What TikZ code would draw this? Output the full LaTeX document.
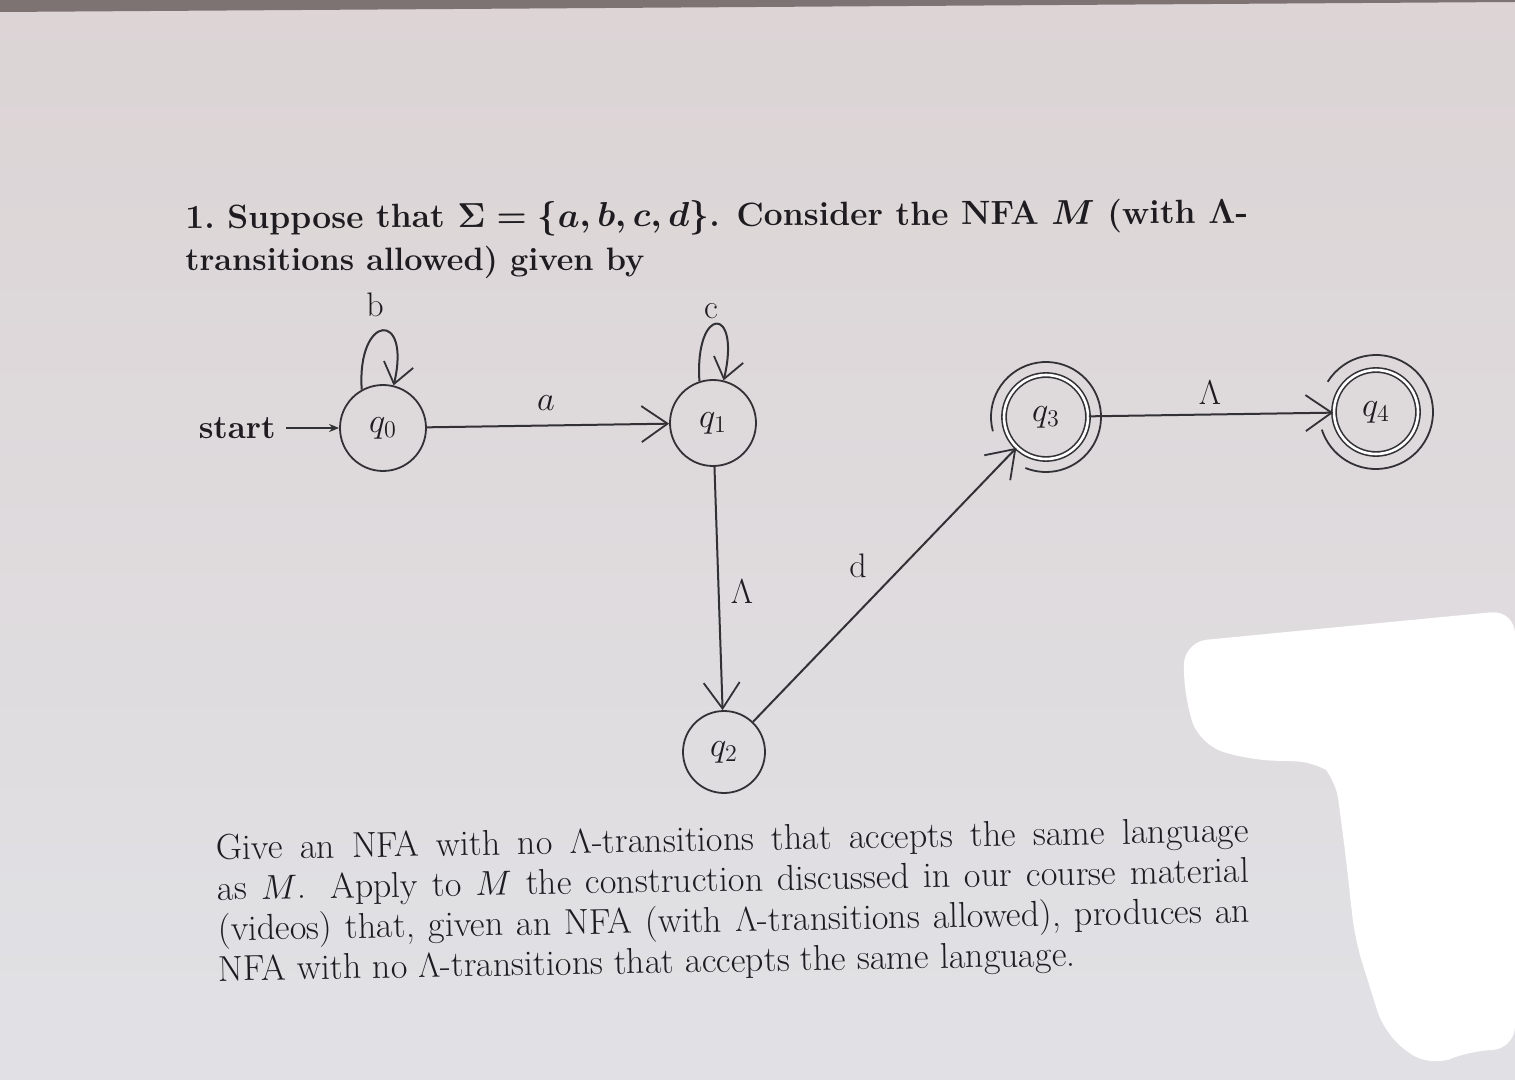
\documentclass[tikz,border=0pt]{standalone}
\usetikzlibrary{arrows.meta}
\definecolor{bgtop}{RGB}{220,212,213}
\definecolor{bgmid}{RGB}{230,227,229}
\definecolor{bgbot}{RGB}{225,225,229}
\definecolor{ink}{RGB}{30,28,32}
\definecolor{linec}{RGB}{50,49,53}
\definecolor{bezel}{RGB}{125,115,115}
\tikzset{
  statenode/.style={circle, draw=linec, line width=0.9pt, minimum size=43pt, inner sep=0pt,
    text=ink, font=\fontsize{17}{19}\selectfont},
  acceptnode/.style={statenode, double, double distance=1.3pt, line width=0.8pt, minimum size=42pt},
  outerring/.style={draw=linec, line width=0.9pt},
  edgearrow/.style={draw=linec, line width=1pt, -{Straight Barb[length=13pt,width=18pt,line width=0.9pt]}},
  looparrow/.style={draw=linec, line width=1pt, -{Straight Barb[length=10pt,width=15pt,line width=0.9pt]}},
  startarrow/.style={draw=linec, line width=0.8pt, -{Stealth[length=5pt,width=4pt]}},
  lbl/.style={text=ink, inner sep=0pt, font=\fontsize{17}{19}\selectfont},
}
\begin{document}
\begin{tikzpicture}[x=0.5pt,y=-0.5pt]
\useasboundingbox (0,0) rectangle (1515,1080);
% background (photo of a screen)
\shade[top color=bgtop, middle color=bgmid, bottom color=bgbot] (0,0) rectangle (1515,1080);
\fill[bezel] (0,0) -- (1515,0) -- (1515,2) -- (0,12) -- cycle;

% question text
\node[anchor=base west, inner sep=0pt, text=ink, rotate=0.3, font=\fontsize{16.8}{19}\selectfont\bfseries\boldmath] (line1) at (185,229)
  {1.\ Suppose that $\Sigma = \{a, b, c, d\}$. Consider the NFA $M$ (with $\Lambda$-};
\node[anchor=base west, inner sep=0pt, text=ink, font=\fontsize{16.2}{19}\selectfont\bfseries\boldmath] (line2) at (185,271)
  {transitions allowed) given by};

% states
\node[statenode] (q0) at (383,428) {$q_0$};
\node[statenode] (q1) at (713,423) {$q_1$};
\node[statenode, minimum size=41pt] (q2) at (724,752) {$q_2$};
\node[acceptnode] (q3) at (1046,417) {$q_3$};
\node[acceptnode] (q4) at (1376,412) {$q_4$};
\node[lbl, anchor=east, font=\fontsize{16.5}{19}\selectfont\bfseries] (start) at (276,428) {start};

% outer rings of the accepting states
\draw[outerring] (q3.center) ++(-195:55) arc[start angle=-195, end angle=112, radius=55];
\draw[outerring] (q4.center) ++(-148:57) arc[start angle=-148, end angle=162, radius=57];

% transitions
\draw[startarrow] (start.east) ++(10,0) coordinate (s0) (s0) -- (q0.west);
\draw[edgearrow] (q0) -- (q1);
\draw[looparrow] (q0.119) .. controls +(-5,-76) and +(18,-76) .. (q0.76);
\draw[looparrow] (q1.108) .. controls +(-5,-76) and +(18,-76) .. (q1.76);
\draw[edgearrow] (q1) -- (q2);
\draw[edgearrow] (q2) -- (q3);
\draw[edgearrow] (q3) -- (q4);

% transition labels
\node[lbl] (lb) at (375,305) {b};
\node[lbl] (lc) at (711,311) {c};
\node[lbl] (la) at (546,403) {$a$};
\node[lbl] (lL1) at (742,592) {$\Lambda$};
\node[lbl] (ld) at (858,566) {d};
\node[lbl] (lL2) at (1210,393) {$\Lambda$};

% task text
\node[anchor=north west, inner sep=0pt, text=ink, rotate=1, align=left,
      font=\fontsize{18}{20.2}\selectfont] (para) at (216,834)
  {\makebox[516pt][s]{Give an NFA with no $\Lambda$-transitions that accepts the same language}\\
   \makebox[516pt][s]{as $M$. Apply to $M$ the construction discussed in our course material}\\
   \makebox[516pt][s]{(videos) that, given an NFA (with $\Lambda$-transitions allowed), produces an}\\
   NFA with no $\Lambda$-transitions that accepts the same language.};

% white cover patch on the right
\fill[white, rounded corners=12pt] (1183,642) -- (1515,610) -- (1515,1050) -- (1470,1050)
  -- (1430,1068) -- (1385,1035) -- (1355,940) -- (1345,850) -- (1335,775) -- (1320,762)
  -- (1250,760) -- (1200,745) -- (1185,700) -- cycle;
\end{tikzpicture}
\end{document}
